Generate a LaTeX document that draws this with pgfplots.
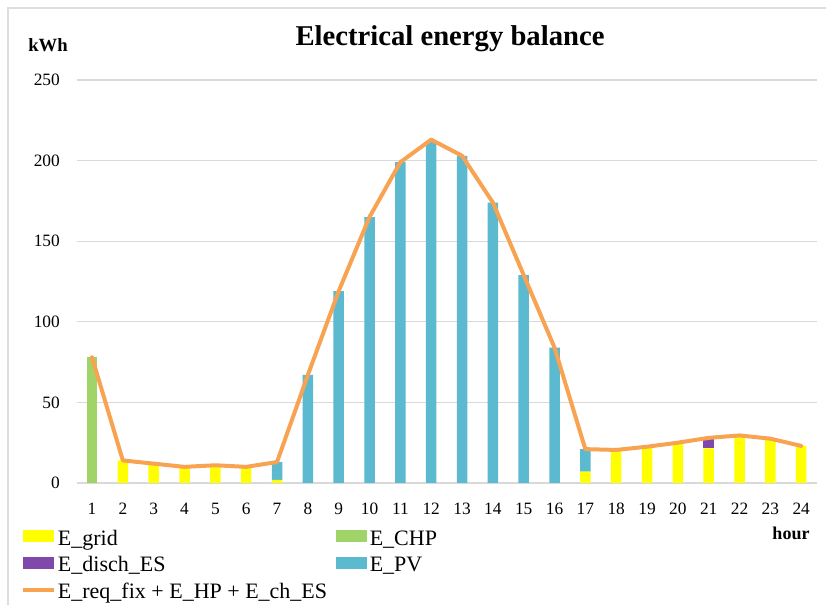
\documentclass[border=0pt]{standalone}
\usepackage{pgfplots}
\pgfplotsset{compat=1.18}
\usepackage{pgfplotstable}
\usepackage{fontspec}
\setmainfont{Liberation Serif}
\definecolor{cgrid}{RGB}{255,255,0}
\definecolor{cchp}{RGB}{160,212,104}
\definecolor{cdis}{RGB}{128,72,170}
\definecolor{cpv}{RGB}{91,185,208}
\definecolor{cline}{RGB}{248,163,82}
\definecolor{cgridline}{RGB}{217,217,217}
\definecolor{cframe}{RGB}{222,222,222}
\pgfplotsset{
  mybarlegend/.style={legend image code/.code={\fill[##1] (0pt,2.25pt) rectangle (23.25pt,11.25pt);}},
  mylinelegend/.style={legend image code/.code={\draw[##1] (0pt,6.5pt) -- (23.25pt,6.5pt);}}
}
\pgfplotstableread{
h grid chp dis pv
1 0 78 0 0
2 14 0 0 0
3 12 0 0 0
4 10 0 0 0
5 11 0 0 0
6 10 0 0 0
7 2 0 0 11
8 0 0 0 67
9 0 0 0 119
10 0 0 0 165
11 0 0 0 199
12 0 0 0 212
13 0 0 0 203
14 0 0 0 174
15 0 0 0 129
16 0 0 0 84
17 7 0 0 14
18 20.5 0 0 0
19 22.5 0 0 0
20 25 0 0 0
21 21.5 0 6.5 0
22 29.5 0 0 0
23 27.5 0 0 0
24 23 0 0 0
}\bars
\pgfplotstableread{
h e
1 78
2 14
3 12
4 10
5 11
6 10
7 13
8 67
9 119
10 165
11 199
12 213
13 203
14 174
15 129
16 84
17 21
18 20.5
19 22.5
20 25
21 28
22 29.5
23 27.5
24 23
}\req
\begin{document}
\begin{tikzpicture}
\useasboundingbox (0,0) rectangle (619.5pt,453.75pt);
\draw[cframe, line width=0.9pt] (6pt,0) -- (6pt,447.75pt) -- (619.5pt,447.75pt);
\begin{axis}[
  at={(57.45pt,91.5pt)}, anchor=south west, scale only axis,
  width=555pt, height=302.25pt,
  xmin=0.5, xmax=24.5, ymin=0, ymax=250,
  ytick={0,50,...,250}, xtick={1,...,24},
  ymajorgrids, major grid style={cgridline, line width=1pt},
  axis line style={draw=none}, tick style={draw=none},
  ybar stacked, bar width=7.9pt,
  ticklabel style={font=\fontsize{13}{15}\selectfont, inner sep=0pt},
  /pgf/number format/assume math mode=true,
  yticklabel style={anchor=east, xshift=-12.4pt},
  xticklabel style={anchor=north, yshift=-15pt},
  legend columns=2,
  legend style={at={(-0.0761,-0.1089)}, anchor=north west, draw=none, fill=none,
    inner sep=0pt, font=\fontsize{16.5}{19.8}\selectfont,
    cells={anchor=base west},
    nodes={inner sep=0pt, text height=13.6pt, text depth=6.3pt},
    /tikz/every odd column/.append style={column sep=1.8pt}},
]
\addplot[fill=cgrid, draw=none, mybarlegend] table[x=h,y=grid]{\bars};
\addlegendentry{\makebox[208.8pt][l]{E\_grid}}
\addplot[fill=cchp, draw=none, mybarlegend] table[x=h,y=chp]{\bars};
\addlegendentry{E\_CHP}
\addplot[fill=cdis, draw=none, mybarlegend] table[x=h,y=dis]{\bars};
\addlegendentry{\makebox[208.8pt][l]{E\_disch\_ES}}
\addplot[fill=cpv, draw=none, mybarlegend] table[x=h,y=pv]{\bars};
\addlegendentry{E\_PV}
\addlegendimage{cline, line width=3pt, mylinelegend}
\addlegendentry{\makebox[208.8pt][l]{E\_req\_fix + E\_HP + E\_ch\_ES}}
\end{axis}
\begin{axis}[
  at={(57.45pt,91.5pt)}, anchor=south west, scale only axis,
  width=555pt, height=302.25pt,
  xmin=0.5, xmax=24.5, ymin=0, ymax=250, hide axis]
\addplot[cline, line width=3pt, line join=round, line cap=round] table[x=h,y=e]{\req};
\end{axis}
\node[anchor=base, font=\bfseries\fontsize{21.5}{25}\selectfont] at (337.5pt,419.25pt) {Electrical energy balance};
\node[anchor=base, font=\bfseries\fontsize{14}{16}\selectfont] at (36pt,414.75pt) {kWh};
\node[anchor=base, font=\bfseries\fontsize{13.5}{16}\selectfont] at (593.25pt,48.75pt) {hour};
\end{tikzpicture}
\end{document}
